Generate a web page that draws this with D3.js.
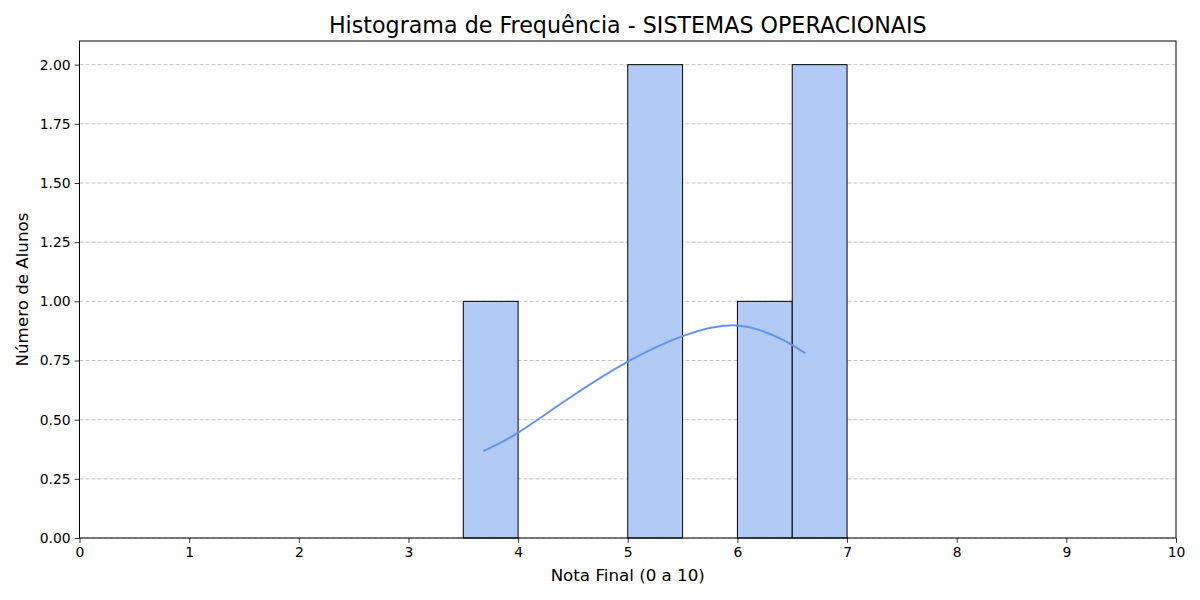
<!DOCTYPE html>
<html><head><meta charset="utf-8">
<script src="https://cdn.jsdelivr.net/npm/d3@7/dist/d3.min.js"></script>
<style>body{margin:0;background:#fff}svg{display:block;font-family:"DejaVu Sans",sans-serif}</style>
</head><body><svg id="c" width="1200" height="600"></svg>
<script>
const binStarts = [3.5, 5.0, 6.0, 6.5];
const binWidth = 0.5;
const counts = [1, 2, 1, 2];
const kdeX = [3.68, 3.99, 4.44, 5.0, 5.5, 6.0, 6.42, 6.62];
const kdeY = [0.367, 0.442, 0.583, 0.745, 0.853, 0.898, 0.836, 0.78];
const xTicks = [0,1,2,3,4,5,6,7,8,9,10];
const yTicks = [0,0.25,0.5,0.75,1.0,1.25,1.5,1.75,2.0];

const svg = d3.select('#c');
const L=79.5, R=1176, T=41, B=538;
const x = d3.scaleLinear().domain([0,10]).range([L,R]);
const y = d3.scaleLinear().domain([0,2.1]).range([B,T]);

// grid
svg.append('g').selectAll('line').data(yTicks).join('line')
  .attr('x1',L).attr('x2',R).attr('y1',d=>y(d)).attr('y2',d=>y(d))
  .attr('stroke','#c2c2c2').attr('stroke-width',1)
  .attr('stroke-dasharray','4,2');

// bars
svg.append('g').selectAll('rect').data(binStarts).join('rect')
  .attr('x',d=>x(d)).attr('width',d=>x(d+binWidth)-x(d))
  .attr('y',(d,i)=>y(counts[i])).attr('height',(d,i)=>y(0)-y(counts[i]))
  .attr('fill','#b1caf6').attr('stroke','#000').attr('stroke-width',1);

// kde
const line = d3.line().x(d=>x(d[0])).y(d=>y(d[1])).curve(d3.curveNatural);
svg.append('path').datum(kdeX.map((v,i)=>[v,kdeY[i]]))
  .attr('d',line).attr('fill','none').attr('stroke','#6495ed').attr('stroke-width',2);

// axes
const xa = svg.append('g').attr('transform',`translate(0,${B})`)
  .call(d3.axisBottom(x).tickValues(xTicks).tickFormat(d3.format('d')).tickSize(4.9).tickPadding(4));
const ya = svg.append('g').attr('transform',`translate(${L},0)`)
  .call(d3.axisLeft(y).tickValues(yTicks).tickFormat(d3.format('.2f')).tickSize(4.9).tickPadding(4));
[xa,ya].forEach(a=>{a.select('.domain').remove();a.selectAll('text').attr('font-size',13.9).attr('fill','#000').attr('font-family','DejaVu Sans');a.selectAll('line').attr('stroke','#000').attr('stroke-width',0.8);});

svg.append('rect').attr('x',L).attr('y',T).attr('width',R-L).attr('height',B-T)
  .attr('fill','none').attr('stroke','#000').attr('stroke-width',1);

svg.append('text').attr('x',(L+R)/2).attr('y',33).attr('text-anchor','middle')
  .attr('font-size',22.2).text('Histograma de Frequência - SISTEMAS OPERACIONAIS');
svg.append('text').attr('x',(L+R)/2).attr('y',581).attr('text-anchor','middle')
  .attr('font-size',16.7).text('Nota Final (0 a 10)');
svg.append('text').attr('transform',`translate(28,${(T+B)/2}) rotate(-90)`).attr('text-anchor','middle')
  .attr('font-size',16.7).text('Número de Alunos');
</script></body></html>
